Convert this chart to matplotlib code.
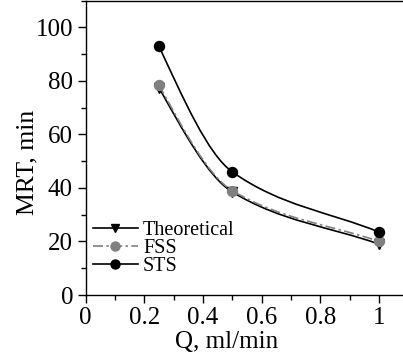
import numpy as np
import matplotlib
matplotlib.use("Agg")
import matplotlib.pyplot as plt
from matplotlib.path import Path
from matplotlib.patches import PathPatch
from matplotlib.lines import Line2D
from matplotlib.ticker import MultipleLocator, FixedLocator

plt.rcParams['font.family'] = ['Liberation Serif', 'DejaVu Serif']

# Data
q = [0.25, 0.5, 1.0]
theoretical = [77.5, 38.5, 19.0]
fss = [78.5, 39.0, 20.0]
sts = [93.0, 46.0, 23.5]
series_names = ["Theoretical", "FSS", "STS"]
x_ticks = [0, 0.2, 0.4, 0.6, 0.8, 1.0]
x_ticklabels = ["0", "0.2", "0.4", "0.6", "0.8", "1"]
y_ticks = [0, 20, 40, 60, 80, 100]


def pchip_slopes(x, y):
    x = np.asarray(x, float); y = np.asarray(y, float)
    h = np.diff(x); s = np.diff(y) / h
    m = np.zeros_like(y)
    for i in range(1, len(x) - 1):
        if s[i-1] * s[i] <= 0:
            m[i] = 0
        else:
            w1 = 2 * h[i] + h[i-1]; w2 = h[i] + 2 * h[i-1]
            m[i] = (w1 + w2) / (w1 / s[i-1] + w2 / s[i])
    m0 = ((2 * h[0] + h[1]) * s[0] - h[0] * s[1]) / (h[0] + h[1])
    m[0] = m0 if np.sign(m0) == np.sign(s[0]) else s[0]
    me = ((2 * h[-1] + h[-2]) * s[-1] - h[-1] * s[-2]) / (h[-1] + h[-2])
    m[-1] = me if np.sign(me) == np.sign(s[-1]) else s[-1]
    return m


def smooth_path(x, y):
    m = pchip_slopes(x, y)
    verts = [(x[0], y[0])]
    codes = [Path.MOVETO]
    for i in range(len(x) - 1):
        h = x[i+1] - x[i]
        verts += [(x[i] + h / 3, y[i] + m[i] * h / 3),
                  (x[i+1] - h / 3, y[i+1] - m[i+1] * h / 3),
                  (x[i+1], y[i+1])]
        codes += [Path.CURVE4] * 3
    return Path(verts, codes)


fig = plt.figure(figsize=(4.03, 3.64), dpi=100)
W, H = 403, 364
x0px, x1px = 85.5, 379.0
axw = 1.1 * (x1px - x0px)
axh = 294.5
ax = fig.add_axes([x0px / W, 69 / H, axw / W, axh / H])
ax.set_xlim(0, 1.1)
ax.set_ylim(0, 110)

gray = '#808080'
styles = [
    dict(color='black', ls='-', lw=1.2, marker='v', mfc='black', mec='black', ms=7, z=3),
    dict(color=gray, ls=(0, (6, 2, 1.5, 2)), lw=1.2, marker='o', mfc=gray, mec=gray, ms=7.2, z=4),
    dict(color='black', ls='-', lw=1.2, marker='o', mfc='black', mec='black', ms=7.2, z=5),
]
handles = []
for yv, name, st in zip([theoretical, fss, sts], series_names, styles):
    p = PathPatch(smooth_path(q, yv), facecolor='none', edgecolor=st['color'],
                  linestyle=st['ls'], lw=st['lw'], zorder=st['z'])
    ax.add_patch(p)
    ax.plot(q, yv, ls='none', marker=st['marker'], mfc=st['mfc'], mec=st['mec'],
            ms=st['ms'], zorder=st['z'] + 3)
    handles.append(Line2D([], [], color=st['color'], ls=st['ls'], lw=st['lw'],
                          marker=st['marker'], mfc=st['mfc'], mec=st['mec'], ms=st['ms'] * 0.9,
                          label=name))

ax.legend(handles=handles, loc='lower left',
          bbox_to_anchor=((93 - x0px) / axw, (295 - 276) / axh),
          frameon=False, fontsize=14.5, handlelength=2.23, handletextpad=0.25,
          labelspacing=-0.05, borderaxespad=0, borderpad=0)

ax.xaxis.set_major_locator(FixedLocator(x_ticks))
ax.set_xticklabels(x_ticklabels)
ax.xaxis.set_minor_locator(MultipleLocator(0.1))
ax.yaxis.set_major_locator(FixedLocator(y_ticks))
ax.yaxis.set_minor_locator(MultipleLocator(10))
ax.tick_params(which='major', direction='out', length=6, width=1.0, labelsize=18, pad=3)
ax.tick_params(which='minor', direction='out', length=3.5, width=1.0)
for sp in ax.spines.values():
    sp.set_linewidth(1.0)

ax.set_xlabel('Q, ml/min', fontsize=18)
ax.set_ylabel('MRT, min', fontsize=18.5)
ax.xaxis.set_label_coords((227 - x0px) / axw, -(331 - 295) / axh)
ax.yaxis.set_label_coords(-(x0px - 38) / axw, (295 - 162) / axh)

fig.savefig('out.png', dpi=100)
